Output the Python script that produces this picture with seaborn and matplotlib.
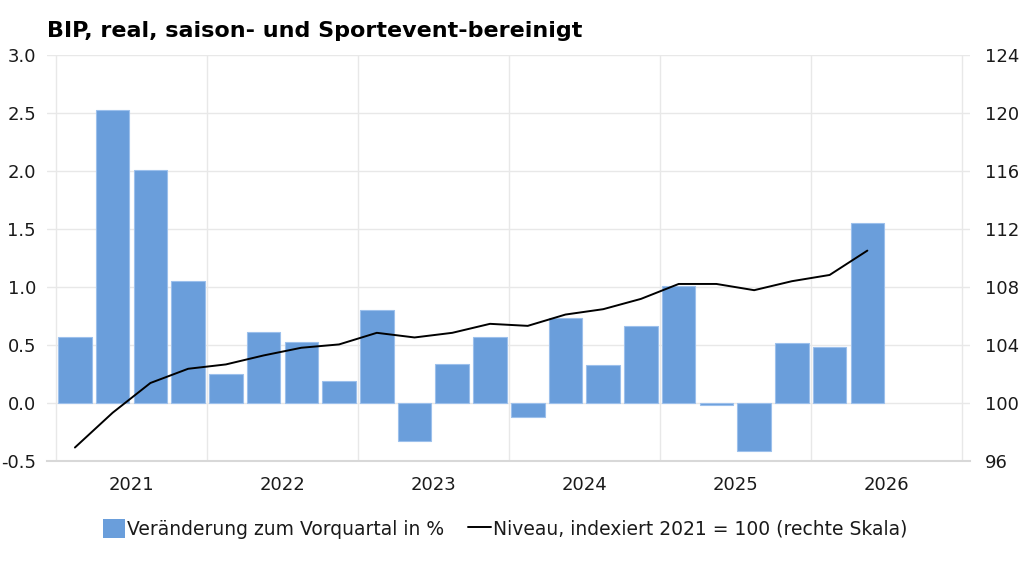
import matplotlib
matplotlib.use("Agg")
import matplotlib.pyplot as plt
import seaborn as sns
import numpy as np
import pandas as pd
from matplotlib.patches import Patch
from matplotlib.lines import Line2D

quarters = ["2021Q1", "2021Q2", "2021Q3", "2021Q4",
            "2022Q1", "2022Q2", "2022Q3", "2022Q4",
            "2023Q1", "2023Q2", "2023Q3", "2023Q4",
            "2024Q1", "2024Q2", "2024Q3", "2024Q4",
            "2025Q1", "2025Q2", "2025Q3", "2025Q4",
            "2026Q1", "2026Q2"]
change_pct = [0.57, 2.53, 2.01, 1.05, 0.25, 0.61, 0.53, 0.19, 0.80, -0.33, 0.34, 0.57,
              -0.12, 0.73, 0.33, 0.66, 1.01, -0.015, -0.41, 0.52, 0.48, 1.55]
level_index = [96.93, 99.33, 101.38, 102.36, 102.66, 103.28, 103.81, 104.04, 104.84, 104.52,
               104.84, 105.46, 105.32, 106.10, 106.47, 107.18, 108.21, 108.21, 107.78, 108.40,
               108.83, 110.51]
years = ["2021", "2022", "2023", "2024", "2025", "2026"]
left_ticks = [-0.5, 0.0, 0.5, 1.0, 1.5, 2.0, 2.5, 3.0]
right_ticks = [96, 100, 104, 108, 112, 116, 120, 124]

title = "BIP, real, saison- und Sportevent-bereinigt"
bar_label = "Veränderung zum Vorquartal in %"
line_label = "Niveau, indexiert 2021 = 100 (rechte Skala)"

sns.set_theme(style="white")
plt.rcParams['font.family'] = ['DejaVu Sans']

bar_color = "#6a9edb"
edge_color = "#9cc0ec"
grid_color = "#e8e8e8"
text_color = "#1a1a1a"
tick_fs = 13

fig = plt.figure(figsize=(10.24, 5.76), dpi=100)
ax = fig.add_axes([47/1024, 1 - 461/576, (970 - 47)/1024, (461 - 55)/576])

df = pd.DataFrame({"quarter": quarters, "change": change_pct, "level": level_index})
df["pos"] = np.arange(len(df))

sns.barplot(data=df, x="quarter", y="change", order=quarters, color=bar_color,
            saturation=1, width=0.89, edgecolor=edge_color, linewidth=0.8, ax=ax, zorder=2)

ax.set_ylim(-0.5, 3.0)
ax.set_yticks(left_ticks)
ax.set_yticklabels([f"{t:.1f}" for t in left_ticks], fontsize=tick_fs, color=text_color)

ax2 = ax.twinx()
sns.lineplot(data=df, x="pos", y="level", color="black", linewidth=1.4, ax=ax2, zorder=3)
ax2.set_ylim(96, 124)
ax2.set_yticks(right_ticks)
ax2.set_yticklabels([str(t) for t in right_ticks], fontsize=tick_fs, color=text_color)
ax2.set_ylabel("")
ax.set_ylabel("")
ax.set_xlabel("")
ax2.set_xlabel("")

xmin, xmax = -0.74, 23.72
ax.set_xlim(xmin, xmax)
ax2.set_xlim(xmin, xmax)

# grid
for t in left_ticks:
    ax.axhline(t, color=grid_color, linewidth=1, zorder=0)
boundaries = np.arange(-0.5, 24, 4)
for b in boundaries:
    ax.axvline(b, color=grid_color, linewidth=1, zorder=0)

# x ticks: minor at quarter boundaries, labels at year centres
ax.set_xticks(np.arange(-0.5, 24, 1), minor=True)
ax.set_xticks(np.arange(1.5, 24, 4))
ax.set_xticklabels(years, fontsize=tick_fs, color=text_color)
ax.tick_params(axis="x", which="major", length=0, pad=11)
ax.tick_params(axis="x", which="minor", length=5, color="#d8d8d8", width=1)
ax.tick_params(axis="y", length=0, pad=8)
ax2.tick_params(axis="y", length=0, pad=11)
ax2.tick_params(axis="x", length=0)

for a in (ax, ax2):
    for s in ("left", "right", "top"):
        a.spines[s].set_visible(False)
ax.spines["bottom"].set_color("#d8d8d8")
ax.spines["bottom"].set_linewidth(1.5)
ax2.spines["bottom"].set_visible(False)
ax.grid(False)
ax2.grid(False)

fig.text(47/1024, 1 - 31/576, title, fontsize=16, fontweight="bold", color="black",
         va="center", ha="left")

handles = [Patch(facecolor=bar_color, edgecolor="none"),
           Line2D([0], [0], color="black", linewidth=1.4)]
fig.legend(handles, [bar_label, line_label], loc="center", bbox_to_anchor=(0.493, 1 - 529/576),
           ncol=2, frameon=False, fontsize=13.5, handlelength=1.2, handleheight=1.2,
           handletextpad=0.1, columnspacing=1.3, labelcolor=text_color)

fig.savefig("out.png", dpi=100)
